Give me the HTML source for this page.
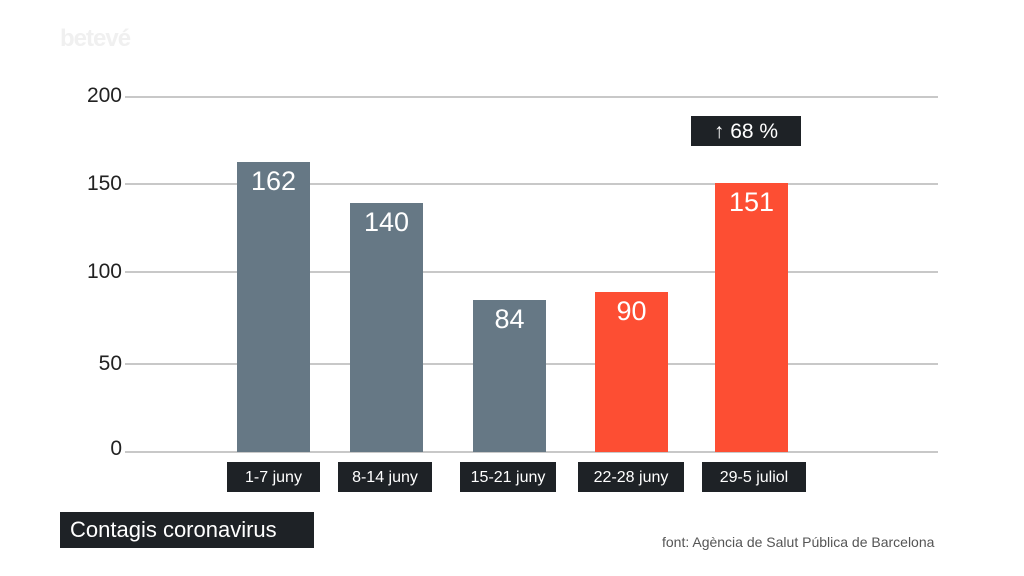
<!DOCTYPE html>
<html><head><meta charset="utf-8"><style>
body{margin:0;width:1024px;height:576px;background:#fff;position:relative;overflow:hidden;font-family:"Liberation Sans",sans-serif}
.a{position:absolute}
.g{position:absolute;left:125px;width:813px;height:2px;background:#c8c8c8}
.y{position:absolute;width:60px;text-align:right;font-size:21px;color:#222}
.b{position:absolute;width:73px;bottom:124px;color:#fff;font-size:27px;text-align:center;padding-top:4px;box-sizing:border-box}
.gr{background:#667885}.rd{background:#fd4e33}
.l{position:absolute;top:462px;height:30px;background:#1e2226;color:#fff;font-size:16px;line-height:31px;text-align:center}
</style></head><body>
<div class="a" style="left:60px;top:25px;font-size:24px;color:#f0f0f0;font-weight:bold;letter-spacing:-1px">betevé</div>
<div class="g" style="top:96px"></div><div class="g" style="top:183px"></div><div class="g" style="top:271px"></div><div class="g" style="top:363px"></div><div class="g" style="top:451px"></div>
<div class="y" style="left:62px;top:84px">200</div>
<div class="y" style="left:62px;top:172px">150</div>
<div class="y" style="left:62px;top:260px">100</div>
<div class="y" style="left:62px;top:352px">50</div>
<div class="y" style="left:62px;top:437px">0</div>
<div class="b gr" style="left:237px;top:162px">162</div>
<div class="b gr" style="left:350px;top:203px">140</div>
<div class="b gr" style="left:473px;top:300px">84</div>
<div class="b rd" style="left:595px;top:292px">90</div>
<div class="b rd" style="left:715px;top:183px">151</div>
<div class="l" style="left:227px;width:93px">1-7 juny</div>
<div class="l" style="left:338px;width:94px">8-14 juny</div>
<div class="l" style="left:460px;width:96px">15-21 juny</div>
<div class="l" style="left:578px;width:106px">22-28 juny</div>
<div class="l" style="left:702px;width:104px">29-5 juliol</div>
<div class="a" style="left:691px;top:116px;width:110px;height:30px;background:#1e2226;color:#fff;font-size:21px;line-height:31px;text-align:center"><b>↑</b> 68 %</div>
<div class="a" style="left:60px;top:512px;width:254px;height:36px;background:#1e2226;color:#fff;font-size:22px;line-height:36px;padding-left:10px;box-sizing:border-box">Contagis coronavirus</div>
<div class="a" style="left:662px;top:534px;font-size:14px;color:#555">font: Agència de Salut Pública de Barcelona</div>
</body></html>
